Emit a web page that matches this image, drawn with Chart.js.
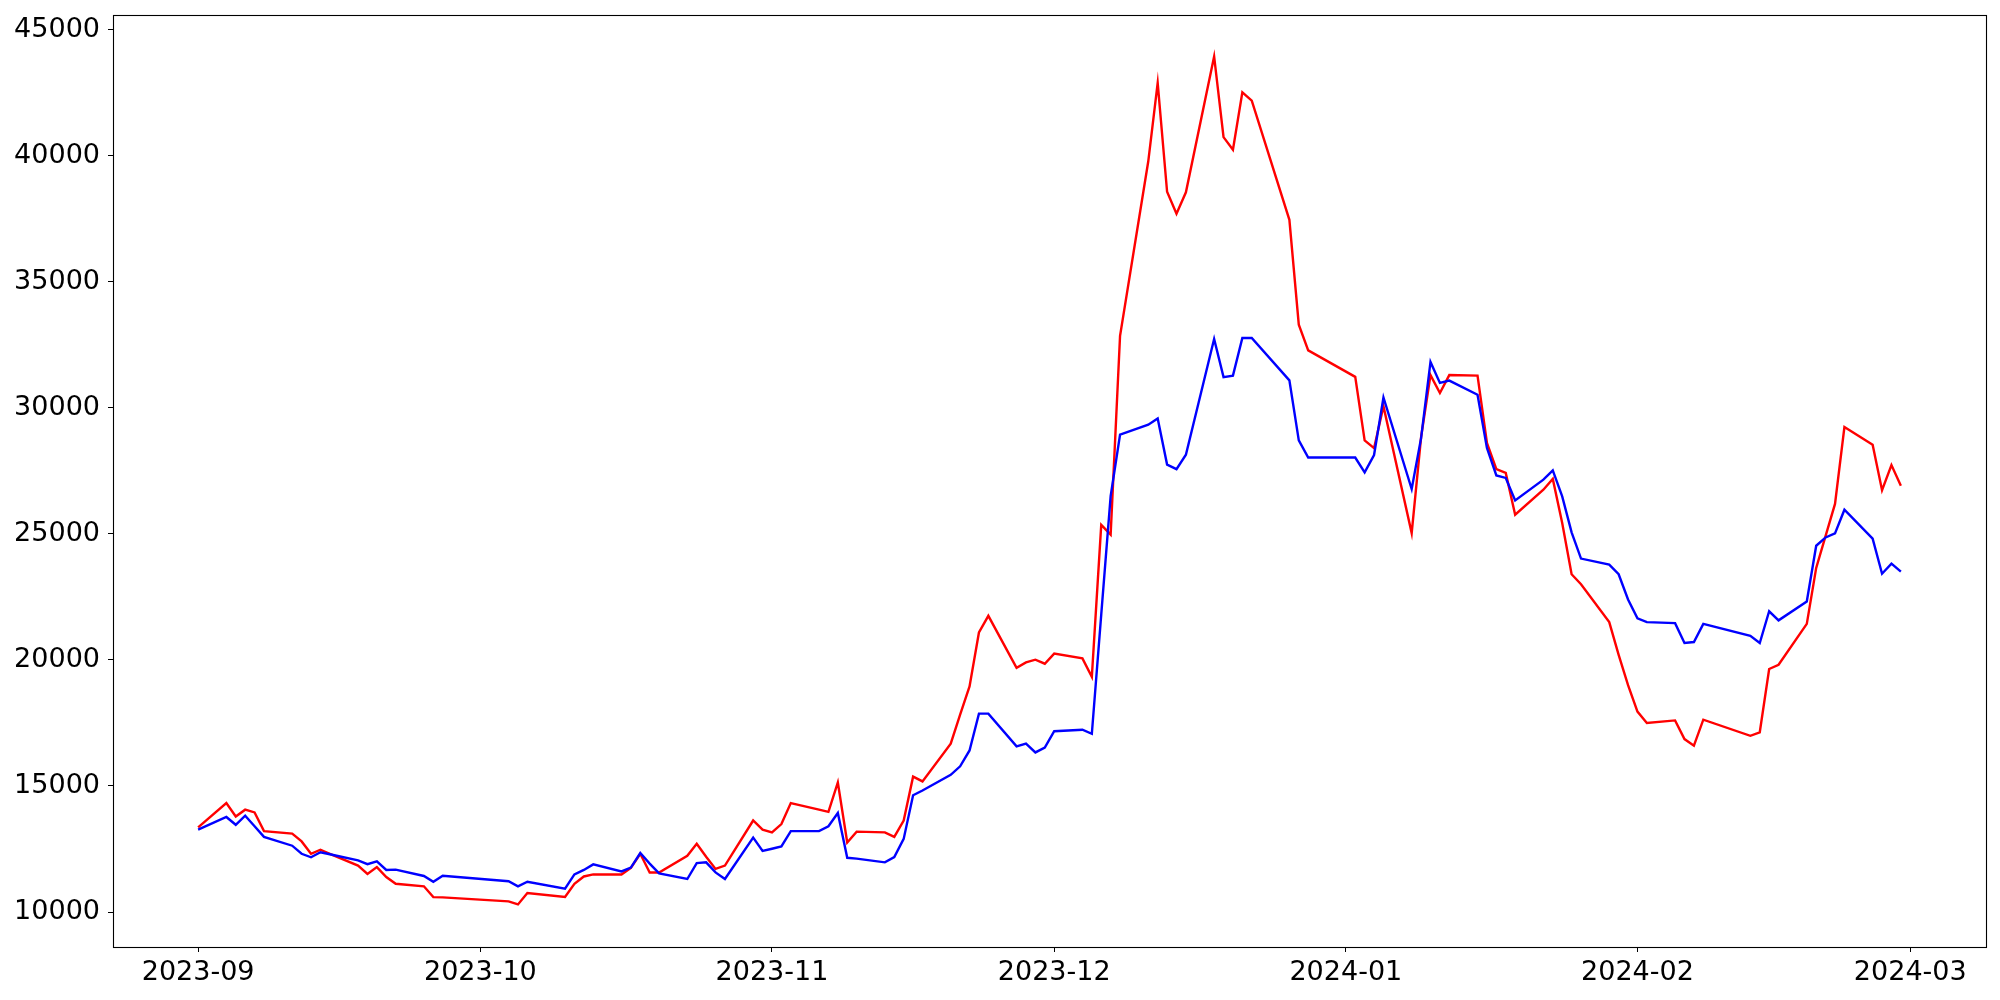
<!DOCTYPE html>
<html lang="en">
<head>
    <meta charset="UTF-8">
    <title>Red vs blue daily series, 2023-09 to 2024-02</title>
    <script src="https://cdn.jsdelivr.net/npm/chart.js"></script>
    <style>
        body {
            margin: 0;
            background-color: #fff;
        }
        #wrap {
            width: 2000px;
            height: 1000px;
        }
    </style>
</head>
<body>
    <div id="wrap"><canvas id="chart" width="2000" height="1000"></canvas></div>

    <script>
        // trading days (Korean market calendar)
        const dates = [
            '2023-09-01', '2023-09-04', '2023-09-05', '2023-09-06', '2023-09-07', '2023-09-08',
            '2023-09-11', '2023-09-12', '2023-09-13', '2023-09-14', '2023-09-15',
            '2023-09-18', '2023-09-19', '2023-09-20', '2023-09-21', '2023-09-22',
            '2023-09-25', '2023-09-26', '2023-09-27',
            '2023-10-04', '2023-10-05', '2023-10-06',
            '2023-10-10', '2023-10-11', '2023-10-12', '2023-10-13',
            '2023-10-16', '2023-10-17', '2023-10-18', '2023-10-19', '2023-10-20',
            '2023-10-23', '2023-10-24', '2023-10-25', '2023-10-26', '2023-10-27',
            '2023-10-30', '2023-10-31', '2023-11-01', '2023-11-02', '2023-11-03',
            '2023-11-06', '2023-11-07', '2023-11-08', '2023-11-09', '2023-11-10',
            '2023-11-13', '2023-11-14', '2023-11-15', '2023-11-16', '2023-11-17',
            '2023-11-20', '2023-11-21', '2023-11-22', '2023-11-23', '2023-11-24',
            '2023-11-27', '2023-11-28', '2023-11-29', '2023-11-30', '2023-12-01',
            '2023-12-04', '2023-12-05', '2023-12-06', '2023-12-07', '2023-12-08',
            '2023-12-11', '2023-12-12', '2023-12-13', '2023-12-14', '2023-12-15',
            '2023-12-18', '2023-12-19', '2023-12-20', '2023-12-21', '2023-12-22',
            '2023-12-26', '2023-12-27', '2023-12-28',
            '2024-01-02', '2024-01-03', '2024-01-04', '2024-01-05',
            '2024-01-08', '2024-01-09', '2024-01-10', '2024-01-11', '2024-01-12',
            '2024-01-15', '2024-01-16', '2024-01-17', '2024-01-18', '2024-01-19',
            '2024-01-22', '2024-01-23', '2024-01-24', '2024-01-25', '2024-01-26',
            '2024-01-29', '2024-01-30', '2024-01-31', '2024-02-01', '2024-02-02',
            '2024-02-05', '2024-02-06', '2024-02-07', '2024-02-08',
            '2024-02-13', '2024-02-14', '2024-02-15', '2024-02-16',
            '2024-02-19', '2024-02-20', '2024-02-21', '2024-02-22', '2024-02-23',
            '2024-02-26', '2024-02-27', '2024-02-28', '2024-02-29'
        ];

        const redValues = [
            13360, 14320, 13790, 14060, 13950, 13210,
            13110, 12800, 12310, 12470, 12310,
            11840, 11510, 11780, 11390, 11120,
            11020, 10590, 10580,
            10420, 10300, 10750,
            10600, 11120, 11410, 11490,
            11490, 11750, 12310, 11570, 11570,
            12230, 12710, 12190, 11710, 11840,
            13630, 13270, 13160, 13490, 14320,
            14060, 13970, 15140, 12760, 13190,
            13160, 12980, 13630, 15370, 15180,
            16680, 17830, 18950, 21090, 21750,
            19690, 19900, 20010, 19850, 20250,
            20060, 19330, 25360, 24970, 32860,
            39780, 42890, 38570, 37700, 38550,
            43940, 40740, 40240, 42520, 42190,
            37460, 33300, 32280,
            31230, 28710, 28400, 30060,
            25030, 28840, 31300, 30590, 31300,
            31280, 28610, 27570, 27420, 25760,
            26750, 27180, 25430, 23400, 23000,
            21500, 20200, 19000, 17950, 17500,
            17600, 16860, 16600, 17630,
            16990, 17130, 19640, 19810,
            21430, 23650, 24920, 26190, 29240,
            28540, 26730, 27730, 26910
        ];

        const blueValues = [
            13270, 13770, 13460, 13820, 13400, 12980,
            12630, 12310, 12170, 12370, 12290,
            12050, 11900, 12010, 11670, 11680,
            11430, 11200, 11440,
            11220, 11020, 11200,
            10930, 11490, 11670, 11890,
            11610, 11760, 12340, 11920, 11530,
            11310, 11940, 11970, 11570, 11310,
            12950, 12420, 12510, 12600, 13210,
            13210, 13400, 13930, 12150, 12120,
            11970, 12180, 12900, 14630, 14820,
            15440, 15780, 16410, 17870, 17870,
            16570, 16680, 16330, 16520, 17170,
            17230, 17070, 21800, 26500, 28940,
            29330, 29580, 27750, 27570, 28140,
            32730, 31220, 31280, 32770, 32770,
            31090, 28710, 28030,
            28030, 27440, 28130, 30410,
            26780, 28800, 31820, 30990, 31080,
            30520, 28410, 27320, 27220, 26330,
            27150, 27520, 26490, 25060, 24020,
            23780, 23400, 22400, 21650, 21500,
            21460, 20670, 20710, 21430,
            20960, 20670, 21930, 21570,
            22320, 24530, 24860, 25020, 25960,
            24810, 23420, 23820, 23500
        ];

        const monthTicks = ['2023-09', '2023-10', '2023-11', '2023-12', '2024-01', '2024-02', '2024-03'];
        const yTicks = [10000, 15000, 20000, 25000, 30000, 35000, 40000, 45000];

        // days since the first date, so the x axis can be a plain linear scale
        const origin = Date.UTC(2023, 8, 1);
        function dayNum(s) {
            const p = s.split('-').map(Number);
            return (Date.UTC(p[0], p[1] - 1, p[2] || 1) - origin) / 86400000;
        }

        const font = { family: 'DejaVu Sans', size: 27 };

        // matplotlib style box around the plot area
        const frame = {
            id: 'frame',
            afterDraw(chart) {
                const a = chart.chartArea;
                const c = chart.ctx;
                c.save();
                c.strokeStyle = '#000';
                c.lineWidth = 1.1;
                c.strokeRect(a.left + 0.5, a.top + 0.5, a.right - a.left, a.bottom - a.top);
                c.restore();
            }
        };

        new Chart(document.getElementById('chart').getContext('2d'), {
            type: 'line',
            data: {
                datasets: [
                    {
                        label: 'blue',
                        data: dates.map((d, i) => ({ x: dayNum(d), y: blueValues[i] })),
                        borderColor: '#0000ff',
                        borderWidth: 2.4,
                        pointRadius: 0,
                        tension: 0,
                        order: 0
                    },
                    {
                        label: 'red',
                        data: dates.map((d, i) => ({ x: dayNum(d), y: redValues[i] })),
                        borderColor: '#ff0000',
                        borderWidth: 2.4,
                        pointRadius: 0,
                        tension: 0,
                        order: 1
                    }
                ]
            },
            options: {
                responsive: false,
                animation: false,
                layout: { padding: { top: 15, right: 14, left: 0, bottom: 0 } },
                plugins: {
                    legend: { display: false },
                    tooltip: { enabled: false }
                },
                scales: {
                    x: {
                        type: 'linear',
                        min: -9.05,
                        max: 190.05,
                        afterBuildTicks: s => { s.ticks = monthTicks.map(m => ({ value: dayNum(m) })); },
                        afterFit: s => {
                            s.height = 53;
                            s.paddingLeft = 0;
                            s.paddingRight = 0;
                        },
                        ticks: {
                            callback: (v, i) => monthTicks[i],
                            font: font,
                            color: '#000',
                            padding: 5,
                            maxRotation: 0,
                            autoSkip: false
                        },
                        grid: { drawOnChartArea: false, drawTicks: true, tickLength: 5, color: '#000', lineWidth: 1 },
                        border: { display: false }
                    },
                    y: {
                        min: 8612,
                        max: 45584,
                        afterBuildTicks: s => { s.ticks = yTicks.map(v => ({ value: v })); },
                        afterFit: s => {
                            s.width = 113;
                            s.paddingTop = 0;
                            s.paddingBottom = 0;
                        },
                        ticks: {
                            callback: v => String(v),
                            font: font,
                            color: '#000',
                            padding: 8
                        },
                        grid: { drawOnChartArea: false, drawTicks: true, tickLength: 5, color: '#000', lineWidth: 1 },
                        border: { display: false }
                    }
                }
            },
            plugins: [frame]
        });
    </script>
</body>
</html>
